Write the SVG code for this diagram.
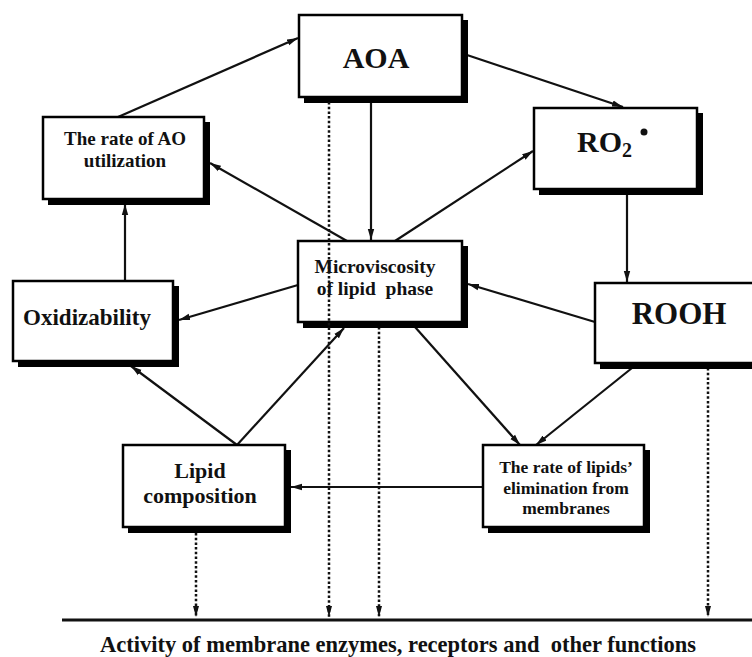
<svg xmlns="http://www.w3.org/2000/svg" width="752" height="657" viewBox="0 0 752 657">
<style>
.bx{fill:#fff;stroke:#000;stroke-width:2.5}
.sh{fill:#000;stroke:none}
.t{font-weight:bold;fill:#111;text-anchor:middle}
.c{stroke:#111;stroke-width:2.2;fill:none;marker-end:url(#ah)}
.d{stroke:#111;stroke-width:2.5;fill:none;stroke-dasharray:2.5 2.2;marker-end:url(#ahd)}
</style>
<defs>
<marker id="ah" markerUnits="userSpaceOnUse" markerWidth="12" markerHeight="8" refX="11" refY="4" orient="auto">
<path d="M0,0.8 L11,4 L0,7.2 z" fill="#111"/>
</marker>
<marker id="ahd" markerUnits="userSpaceOnUse" markerWidth="12" markerHeight="8" refX="11" refY="4" orient="auto">
<path d="M0,1 L11,4 L0,7 z" fill="#111"/>
</marker>
</defs>
<rect width="752" height="657" fill="#fff"/>

<g id="connectors">
<line class="c" x1="118" y1="117" x2="298" y2="38"/>
<line class="c" x1="464" y1="54" x2="623" y2="107"/>
<line class="c" x1="371" y1="102" x2="371" y2="240"/>
<line class="c" x1="627" y1="194" x2="627" y2="282"/>
<line class="c" x1="395" y1="241" x2="533" y2="151"/>
<line class="c" x1="347" y1="241" x2="210" y2="163"/>
<line class="c" x1="125" y1="281" x2="125" y2="204"/>
<line class="c" x1="595" y1="322" x2="468" y2="284"/>
<line class="c" x1="298" y1="285" x2="179" y2="320"/>
<line class="c" x1="237" y1="445" x2="131" y2="366"/>
<line class="c" x1="237" y1="445" x2="344" y2="328"/>
<line class="c" x1="415" y1="327" x2="520" y2="445"/>
<line class="c" x1="632" y1="368" x2="536" y2="445"/>
<line class="c" x1="483" y1="487" x2="291" y2="487" style="stroke-width:1.8"/>
<line class="d" x1="196" y1="533" x2="196" y2="617"/>
<line class="d" x1="379" y1="327" x2="379" y2="617"/>
<line class="d" x1="708" y1="368" x2="708" y2="617"/>
<line x1="62" y1="620" x2="752" y2="620" stroke="#111" stroke-width="3"/>
</g>

<g font-family="'Liberation Serif', 'Times New Roman', serif">
<g id="aoa">
<rect class="bx" x="299" y="15" width="163" height="82"/>
<path class="sh" d="M463,20 H468 V103 H304 V98 H463 Z"/>
<text class="t" x="376" y="68" font-size="30">AOA</text>
</g>

<g id="ro2">
<rect class="bx" x="534" y="108" width="163" height="81"/>
<path class="sh" d="M698,113 H703 V195 H539 V190 H698 Z"/>
<text class="t" x="577" y="152" font-size="30" style="text-anchor:start">RO<tspan font-size="20" dy="5">2</tspan></text>
<circle cx="644" cy="132" r="3.5" fill="#111"/>
</g>

<g id="rate-ao">
<rect class="bx" x="43" y="117" width="161" height="82"/>
<path class="sh" d="M205,122 H210 V205 H48 V200 H205 Z"/>
<text class="t" x="125" y="145" font-size="19">The rate of AO</text>
<text class="t" x="125" y="167" font-size="19">utilization</text>
</g>

<g id="microviscosity">
<rect class="bx" x="298" y="241" width="164" height="81"/>
<path class="sh" d="M463,246 H468 V328 H303 V323 H463 Z"/>
<text class="t" x="375" y="273" font-size="19.5">Microviscosity</text>
<text class="t" x="375" y="295" font-size="19.5" xml:space="preserve">of lipid  phase</text>
</g>

<g id="rooh">
<rect class="bx" x="595" y="283" width="160" height="80"/>
<path class="sh" d="M600,364 H756 V369 H600 Z"/>
<text class="t" x="679" y="324" font-size="31">ROOH</text>
</g>

<g id="oxidizability">
<rect class="bx" x="13" y="281" width="160" height="80"/>
<path class="sh" d="M174,286 H179 V367 H18 V362 H174 Z"/>
<text class="t" x="87" y="325" font-size="23">Oxidizability</text>
</g>

<g id="lipid-composition">
<rect class="bx" x="123" y="445" width="162" height="82"/>
<path class="sh" d="M286,450 H291 V533 H128 V528 H286 Z"/>
<text class="t" x="200" y="478" font-size="22">Lipid</text>
<text class="t" x="200" y="503" font-size="22">composition</text>
</g>

<g id="lipid-elimination">
<rect class="bx" x="483" y="445" width="161" height="82"/>
<path class="sh" d="M645,450 H650 V533 H488 V528 H645 Z"/>
<text class="t" x="566" y="473" font-size="17.5">The rate of lipids’</text>
<text class="t" x="566" y="494" font-size="17.5">elimination from</text>
<text class="t" x="566" y="514" font-size="17.5">membranes</text>
</g>

<g id="footer">
<text class="t" x="398" y="652" font-size="22.5" xml:space="preserve">Activity of membrane enzymes, receptors and  other functions</text>
</g>
</g>

<g id="connectors-over">
<line class="d" x1="329" y1="102" x2="329" y2="617"/>
</g>
</svg>
